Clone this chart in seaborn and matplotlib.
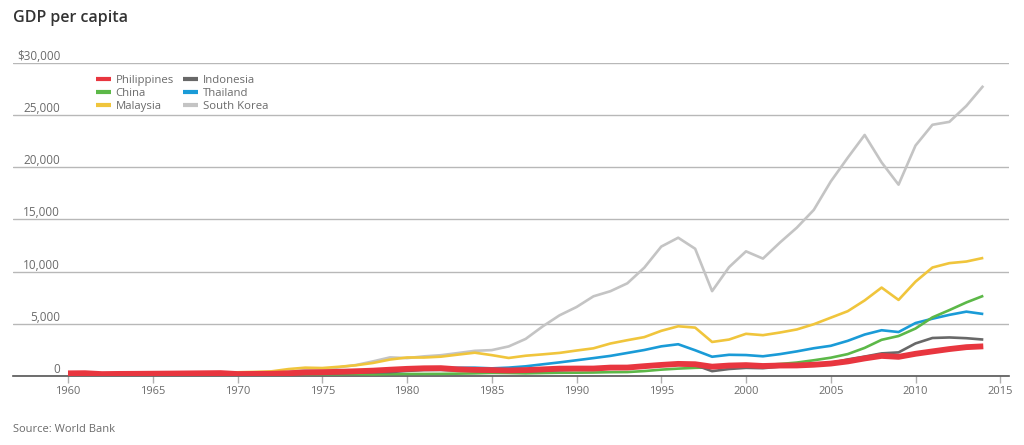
import matplotlib
matplotlib.use("Agg")
import matplotlib.pyplot as plt
import numpy as np
import pandas as pd
import seaborn as sns

years = list(range(1960, 2015))

philippines = [254, 268, 182, 200, 208, 220, 232, 247, 262, 278,
               186, 200, 212, 262, 344, 364, 405, 456, 513, 604,
               685, 738, 752, 639, 586, 563, 530, 567, 636, 706,
               715, 715, 806, 810, 942, 1062, 1161, 1128, 895, 1002,
               1043, 960, 1003, 1010, 1079, 1192, 1397, 1684, 1926, 1836,
               2129, 2358, 2582, 2765, 2843]
indonesia = [None] * 7 + [54, 64, 77,
             80, 82, 93, 128, 193, 222, 261, 312, 349, 367,
             491, 566, 578, 511, 520, 515, 475, 448, 499, 554,
             619, 668, 711, 820, 897, 1014, 1124, 1050, 463, 671,
             780, 748, 900, 1066, 1150, 1258, 1586, 1861, 2168, 2262,
             3122, 3643, 3694, 3623, 3492]
china = [90, 76, 70, 74, 85, 98, 104, 97, 91, 100,
         113, 119, 132, 157, 160, 178, 165, 185, 156, 184,
         195, 197, 203, 225, 250, 294, 281, 251, 284, 311,
         318, 333, 366, 377, 473, 610, 709, 782, 829, 873,
         959, 1053, 1149, 1289, 1509, 1753, 2099, 2694, 3468, 3832,
         4550, 5618, 6317, 7051, 7684]
thailand = [101, 109, 118, 123, 131, 142, 164, 174, 183, 195,
            197, 201, 216, 276, 342, 357, 399, 455, 537, 605,
            683, 718, 733, 784, 798, 733, 803, 928, 1120, 1306,
            1509, 1715, 1928, 2209, 2491, 2842, 3044, 2467, 1846, 2033,
            2008, 1890, 2096, 2359, 2660, 2894, 3369, 3974, 4386, 4213,
            5076, 5492, 5861, 6168, 5941]
malaysia = [235, 226, 233, 288, 299, 314, 325, 322, 323, 354,
            357, 392, 445, 662, 800, 764, 886, 1030, 1252, 1577,
            1775, 1770, 1852, 2048, 2234, 2000, 1728, 1943, 2073, 2215,
            2441, 2653, 3114, 3433, 3728, 4329, 4766, 4638, 3263, 3493,
            4044, 3914, 4166, 4462, 4962, 5587, 6210, 7243, 8475, 7292,
            9041, 10399, 10818, 10971, 11319]
south_korea = [158, 94, 106, 146, 124, 109, 133, 161, 198, 243,
               279, 301, 324, 407, 563, 617, 834, 1055, 1405, 1784,
               1715, 1883, 1993, 2199, 2413, 2482, 2835, 3555, 4749, 5817,
               6610, 7637, 8127, 8885, 10385, 12404, 13255, 12197, 8134, 10432,
               11948, 11253, 12789, 14219, 15922, 18640, 20917, 23101, 20475, 18339,
               22087, 24080, 24359, 25890, 27811]

countries = ["Philippines", "China", "Malaysia", "Indonesia", "Thailand", "South Korea"]
series = {"Philippines": philippines, "China": china, "Malaysia": malaysia,
          "Indonesia": indonesia, "Thailand": thailand, "South Korea": south_korea}
colors = {"Philippines": "#e8363f", "China": "#5cb848", "Malaysia": "#f0c53c",
          "Indonesia": "#686868", "Thailand": "#1a9bd7", "South Korea": "#c4c4c4"}
widths = {"Philippines": 4.2, "China": 1.9, "Malaysia": 1.9,
          "Indonesia": 1.9, "Thailand": 1.9, "South Korea": 1.9}
y_ticks = [0, 5000, 10000, 15000, 20000, 25000, 30000]
y_labels = ["0", "5,000", "10,000", "15,000", "20,000", "25,000", "$30,000"]
x_ticks = list(range(1960, 2016, 5))

sns.set_theme(style="white")
plt.rcParams["font.family"] = ["Open Sans", "DejaVu Sans"]
TXT = "#6b6b6b"

fig = plt.figure(figsize=(10.24, 4.45), dpi=100)
ax = fig.add_axes([13 / 1024, 1 - 376 / 445, 996 / 1024, 313 / 445])

# draw back to front so the Philippines line sits on top
for name in ["South Korea", "Malaysia", "Thailand", "China", "Indonesia", "Philippines"]:
    df = pd.DataFrame({"year": years, "gdp": series[name]}).dropna()
    sns.lineplot(data=df, x="year", y="gdp", ax=ax, color=colors[name],
                 linewidth=widths[name], label=name, solid_capstyle="butt")

ax.set_xlim(1960 - 55 / 16.95, 1960 + 941 / 16.95)
ax.set_ylim(0, 30000)
ax.set_xlabel(""); ax.set_ylabel("")
for s in ["top", "right", "left"]:
    ax.spines[s].set_visible(False)
ax.spines["bottom"].set_color("#555555")
ax.spines["bottom"].set_linewidth(1.2)
ax.spines["bottom"].set_zorder(1)

ax.set_yticks(y_ticks)
ax.set_yticklabels(y_labels)
ax.yaxis.grid(True, color="#b8b8b8", linewidth=1.0)
ax.set_axisbelow(True)
# pad is in points: 47 px -> ~34 pt
ax.tick_params(axis="y", length=0, pad=-34, labelsize=8.5, labelcolor=TXT)
for lab in ax.get_yticklabels():
    lab.set_verticalalignment("bottom")
    lab.set_horizontalalignment("right")

ax.set_xticks(x_ticks)
ax.tick_params(axis="x", bottom=True, length=5, width=1, color="#b0b0b0",
               pad=2, labelsize=8, labelcolor=TXT)

# legend: order Philippines, China, Malaysia | Indonesia, Thailand, South Korea
handles, labels = ax.get_legend_handles_labels()
lookup = dict(zip(labels, handles))
leg = ax.legend([lookup[c] for c in countries], countries, ncol=2,
                loc="upper left", bbox_to_anchor=(77 / 996, 1 - 6 / 313),
                frameon=False, fontsize=8.2, handlelength=1.3, handletextpad=0.45,
                columnspacing=0.8, labelspacing=0.2, borderpad=0)
for t in leg.get_texts():
    t.set_color(TXT)
for h in leg.get_lines():
    h.set_linewidth(3)

fig.text(13 / 1024, 1 - 18 / 445, "GDP per capita", fontsize=11.5, fontweight="semibold",
         color="#333333", va="center", ha="left")
fig.text(13 / 1024, 1 - 430 / 445, "Source: World Bank", fontsize=8, color=TXT,
         va="center", ha="left")

fig.savefig("out.png", dpi=100)
